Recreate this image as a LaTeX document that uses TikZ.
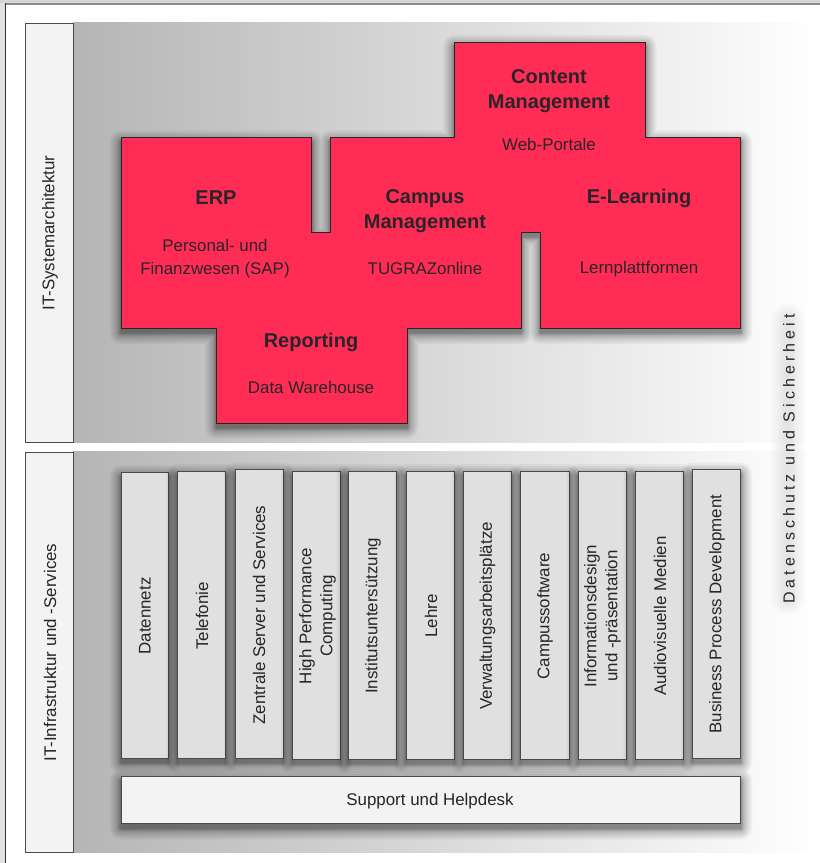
\documentclass[tikz,border=0pt]{standalone}
\usepackage{fontspec}
\setmainfont{Liberation Sans}
\definecolor{redfill}{HTML}{FF2D55}
\definecolor{txt}{HTML}{2A2428}
\definecolor{barfill}{HTML}{E0E0E0}
\definecolor{lightfill}{HTML}{F3F3F3}
\definecolor{frameside}{HTML}{E0E1E3}
\definecolor{boxline}{HTML}{4A4A4A}
\newcommand{\softshadow}[1]{%
  \foreach \w in {1,2,3,4,5,6,8,10,13,16,19,23}{%
    \begin{scope}[transparency group,opacity=0.045]
      \path[shift={(0,4.5)},draw=black,fill=black,line width=\w pt,line join=round] #1;
    \end{scope}}%
}
\newcommand{\redoutline}{(121,137.5) -- (311.5,137.5) -- (311.5,232) -- (330.5,232) -- (330.5,137.5) -- (454.5,137.5) -- (454.5,42) -- (645,42) -- (645,137.5) -- (740.5,137.5) -- (740.5,328) -- (540.5,328) -- (540.5,232) -- (521,232) -- (521,328) -- (407,328) -- (407,423) -- (216.5,423) -- (216.5,328) -- (121,328) -- cycle}
\newcommand{\barbox}[5]{% name, x1, y1, x2, y2
  \softshadow{(#2,#3) rectangle (#4,#5)}
  \path[barshape] (#2,#3) rectangle (#4,#5) coordinate[midway] (#1);
}
\tikzset{
  x=1pt,y=-1pt,
  barshape/.style={draw=boxline,fill=barfill,line width=1pt},
  labelbox/.style={draw=boxline,fill=lightfill,line width=1pt},
  redshape/.style={draw=black!85,fill=redfill,line width=1pt,line join=miter},
  sub/.style={font=\fontsize{16.9}{23}\selectfont,text=txt,align=center,inner sep=0pt},
  head/.style={font=\fontsize{20}{25}\selectfont\bfseries,text=txt,align=center,inner sep=0pt},
  side/.style={sub,rotate=90},
  bartext/.style={font=\fontsize{16.9}{21}\selectfont,text=txt,align=center,inner sep=0pt,rotate=90},
}
\begin{document}
\begin{tikzpicture}
\path[use as bounding box] (0,0) rectangle (820,863);
\fill[white] (0,0) rectangle (820,863);
% page frame
\fill[frameside] (0,0) rectangle (5,863);
\fill[frameside!95!black] (0,0) rectangle (820,3);
\fill[black!45] (5,3) rectangle (820,5);
\fill[black!80] (5,3) rectangle (6,863);
% panels
\shade[left color=black!29,right color=white] (73,22) rectangle (820,442);
\shade[left color=black!29,right color=white] (73,451) rectangle (820,852);
% side labels
\path[labelbox] (25,23) rectangle (73,442);
\path[labelbox] (25,452) rectangle (73,852);
\node[side] (archlabel) at (50,233) {IT-Systemarchitektur};
\node[side] (infralabel) at (50,652.5) {IT-Infrastruktur und -Services};
% red block
\softshadow{\redoutline}
\path[redshape] \redoutline;
\node[head] (erp) at (216,198) {ERP};
\node[sub] (erpsub) at (215,259) {Personal- und\\Finanzwesen (SAP)};
\node[head] (campus) at (425,211) {Campus\\Management};
\node[sub] (campussub) at (425,268) {TUGRAZonline};
\node[head] (content) at (549,91) {Content\\Management};
\node[sub] (contentsub) at (549,144.5) {Web-Portale};
\node[head] (elearning) at (639,198) {E-Learning};
\node[sub] (elearningsub) at (639,269) {Lernplattformen};
\node[head] (reporting) at (311,342) {Reporting};
\node[sub] (reportingsub) at (311,387) {Data Warehouse};
% service bars
\barbox{b1}{121}{472}{168.5}{758}
\barbox{b2}{177.5}{471}{225.5}{758.5}
\barbox{b3}{235.5}{469.5}{283}{758}
\barbox{b4}{292.5}{471}{340.5}{759}
\barbox{b5}{348}{471}{396}{759}
\barbox{b6}{406}{471}{454.5}{759}
\barbox{b7}{463.5}{471}{511.5}{759}
\barbox{b8}{520.5}{471}{569}{759}
\barbox{b9}{578}{471}{626}{759}
\barbox{b10}{635}{471}{683}{759}
\barbox{b11}{692.5}{469.5}{740.5}{758}
\node[bartext] (t1) at (145,616) {Datennetz};
\node[bartext] (t2) at (202,616) {Telefonie};
\node[bartext] (t3) at (259,615) {Zentrale Server und Services};
\node[bartext] (t4) at (317.5,616) {High Performance\\Computing};
\node[bartext] (t5) at (373,616) {Institutsuntersützung};
\node[bartext] (t6) at (431,616) {Lehre};
\node[bartext] (t7) at (487.5,616) {Verwaltungsarbeitsplätze};
\node[bartext] (t8) at (545,616) {Campussoftware};
\node[bartext] (t9) at (602.5,616) {Informationsdesign\\und -präsentation};
\node[bartext] (t10) at (660,616) {Audiovisuelle Medien};
\node[bartext] (t11) at (717,614) {Business Process Development};
% support bar
\softshadow{(121,776) rectangle (740.5,823.5)}
\path[labelbox] (121,776) rectangle (740.5,823.5);
\node[sub] (support) at (430,801) {Support und Helpdesk};
% vertical caption with soft glow
\foreach \w in {6,10,14,18,22,26,30,34}{
  \draw[black,opacity=0.012,line width=\w pt,line cap=round] (788,320) -- (788,598);
}
\node[rotate=90,inner sep=0pt,text=txt,font=\fontsize{16}{20}\selectfont\addfontfeatures{LetterSpace=25.5}] (caption) at (789,459) {Datenschutz und Sicherheit};
\end{tikzpicture}
\end{document}
